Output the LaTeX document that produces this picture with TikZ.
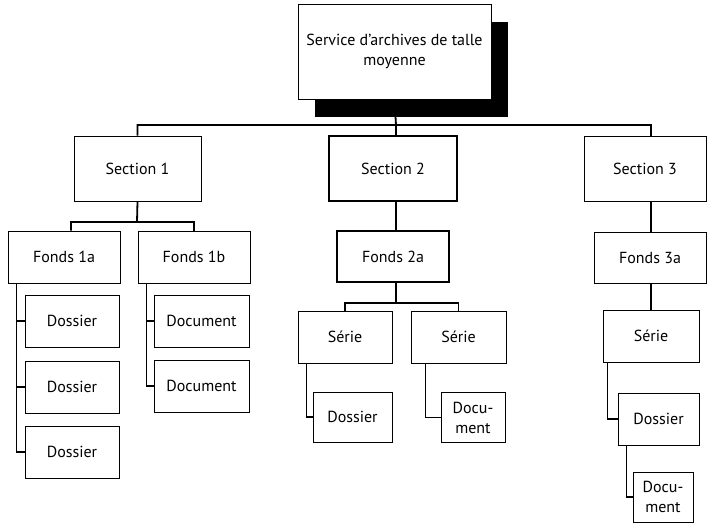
\documentclass[tikz,border=0pt]{standalone}
\usepackage{fontspec}
\setmainfont{PT Sans}
\usepackage{tikz}

\begin{document}
\begin{tikzpicture}[
    x=1pt,y=-1pt,
    box/.style={draw,fill=white,line width=.9pt,inner sep=1pt,align=center,font=\fontsize{16}{20}\selectfont},
    bold/.style={box,line width=2.2pt},
    link/.style={line width=1.8pt}
    ]
    \useasboundingbox (0,0) rectangle (707,523);
    % top of the tree
    \node[box,minimum width=193,minimum height=95] (top) at (394.5,51.5) {Service d'archives de talle\\moyenne};
    \node[box,minimum width=127,minimum height=65] (sec1) at (137.5,168.5) {Section 1};
    \node[bold,minimum width=128,minimum height=65] (sec2) at (393,168.5) {Section 2};
    \node[box,minimum width=122,minimum height=65] (sec3) at (645,168.5) {Section 3};
    \coordinate (bus) at (396,125);
    \draw[link] (top.south) -- (bus) -| (sec1.north);
    \draw[link] (bus) -- (sec2.north -| bus);
    \draw[link] (bus) -| ([xshift=6]sec3.north);
    \fill ([shift={(17,18)}]top.north west) rectangle ([shift={(17,18)}]top.south east);
    \node[box,minimum width=193,minimum height=95] at (top) {Service d'archives de talle\\moyenne};
    % fonds
    \node[box,minimum width=112,minimum height=52] (f1a) at (64,257) {Fonds 1a};
    \node[box,minimum width=112,minimum height=52] (f1b) at (194,257) {Fonds 1b};
    \node[bold,minimum width=112,minimum height=51] (f2a) at (393,256.5) {Fonds 2a};
    \node[box,minimum width=112,minimum height=51] (f3a) at (650,257.5) {Fonds 3a};
    \coordinate (j1) at (137,222);
    \draw[link] (sec1.south) -- (j1) -| ([xshift=7]f1a.north);
    \draw[link] (j1) -| (f1b.north);
    \draw[link] (sec2.south -| bus) -- (f2a.north -| bus);
    \draw[link] ([xshift=6]sec3.south) -- (f3a.north -| 651,0);
    % fonds 1a
    \node[box,minimum width=94,minimum height=52] (d11) at (72,321) {Dossier};
    \node[box,minimum width=94,minimum height=52] (d12) at (72,387) {Dossier};
    \node[box,minimum width=94,minimum height=52] (d13) at (72,452) {Dossier};
    \draw[link] ([xshift=9]f1a.south west) |- (d11.west);
    \draw[link] ([xshift=9]f1a.south west) |- (d12.west);
    \draw[link] ([xshift=9]f1a.south west) |- (d13.west);
    % fonds 1b
    \node[box,minimum width=95,minimum height=52] (doc11) at (201.5,321) {Document};
    \node[box,minimum width=95,minimum height=52] (doc12) at (201.5,386) {Document};
    \draw[link] ([xshift=9]f1b.south west) |- (doc11.west);
    \draw[link] ([xshift=9]f1b.south west) |- (doc12.west);
    % fonds 2a
    \node[box,minimum width=94,minimum height=52] (s21) at (345,337) {Série};
    \node[box,minimum width=95,minimum height=52] (s22) at (458.5,337) {Série};
    \coordinate (j2) at (396,303);
    \draw[link] (f2a.south -| j2) -- (j2) -| (s21.north);
    \draw[link] (j2) -| (s22.north);
    \node[box,minimum width=79,minimum height=50] (d21) at (352.5,417) {Dossier};
    \node[box,minimum width=64,minimum height=50] (doc21) at (473,417.5) {Docu-\\ment};
    \draw[link] ([xshift=9]s21.south west) |- (d21.west);
    \draw[link] ([xshift=15]s22.south west) |- (doc21.west);
    % fonds 3a
    \node[box,minimum width=96,minimum height=52] (s31) at (651,336) {Série};
    \node[box,minimum width=81,minimum height=52] (d31) at (658.5,419) {Dossier};
    \node[box,minimum width=60,minimum height=50] (doc31) at (663,497) {Docu-\\ment};
    \draw[link] (f3a.south -| s31) -- (s31.north);
    \draw[link] ([xshift=5]s31.south west) |- (d31.west);
    \draw[link] ([xshift=9]d31.south west) |- (doc31.west);
\end{tikzpicture}
\end{document}
